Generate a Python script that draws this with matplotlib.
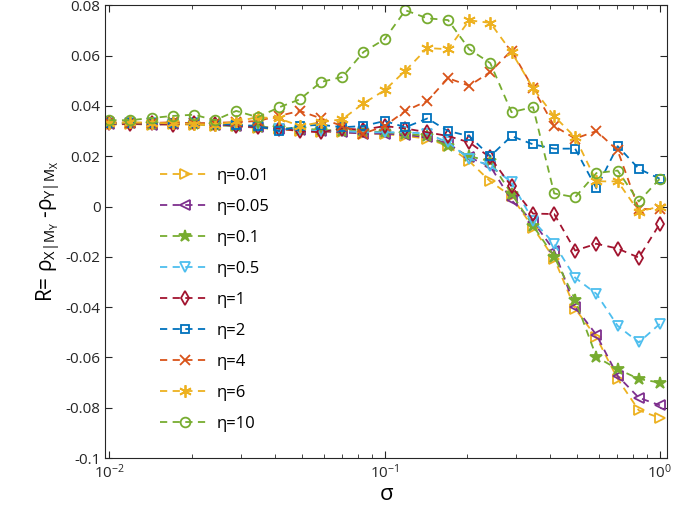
import numpy as np
import matplotlib
matplotlib.use("Agg")
import matplotlib.pyplot as plt
from matplotlib.ticker import FuncFormatter

plt.rcParams['font.family'] = ['Open Sans', 'DejaVu Sans']
plt.rcParams['mathtext.fontset'] = 'custom'
plt.rcParams['mathtext.rm'] = 'Open Sans'
plt.rcParams['mathtext.it'] = 'Open Sans'

# sigma values (log spaced)
sigma = [0.01, 0.0119, 0.0143, 0.0170, 0.0203, 0.0242, 0.0289, 0.0346, 0.0413, 0.0492,
         0.0588, 0.0702, 0.0838, 0.1, 0.119, 0.143, 0.170, 0.203, 0.242, 0.289,
         0.346, 0.413, 0.492, 0.588, 0.702, 0.838, 1.0]

labels = ['η=0.01', 'η=0.05', 'η=0.1', 'η=0.5', 'η=1', 'η=2', 'η=4', 'η=6', 'η=10']

r_001 = [0.0325, 0.0328, 0.0325, 0.0327, 0.0325, 0.0322, 0.0320, 0.0312, 0.0308, 0.0300,
         0.0298, 0.0295, 0.0290, 0.0288, 0.0280, 0.0270, 0.0240, 0.0180, 0.0100, 0.0040,
         -0.0084, -0.0207, -0.0406, -0.0520, -0.0685, -0.0810, -0.0840]
r_005 = [0.0328, 0.0330, 0.0325, 0.0328, 0.0330, 0.0325, 0.0322, 0.0315, 0.0310, 0.0305,
         0.0300, 0.0295, 0.0290, 0.0290, 0.0285, 0.0275, 0.0250, 0.0195, 0.0160, 0.0025,
         -0.0060, -0.0175, -0.0400, -0.0510, -0.0673, -0.0760, -0.0790]
r_01 = [0.0330, 0.0330, 0.0328, 0.0330, 0.0328, 0.0325, 0.0320, 0.0318, 0.0312, 0.0310,
        0.0305, 0.0300, 0.0300, 0.0295, 0.0290, 0.0280, 0.0240, 0.0200, 0.0180, 0.0050,
        -0.0076, -0.0199, -0.0370, -0.0598, -0.0646, -0.0685, -0.0700]
r_05 = [0.0330, 0.0332, 0.0330, 0.0328, 0.0330, 0.0325, 0.0320, 0.0315, 0.0310, 0.0305,
        0.0300, 0.0300, 0.0295, 0.0295, 0.0295, 0.0290, 0.0255, 0.0190, 0.0163, 0.0096,
        -0.0056, -0.0148, -0.0283, -0.0347, -0.0474, -0.0540, -0.0466]
r_1 = [0.0330, 0.0328, 0.0330, 0.0325, 0.0330, 0.0328, 0.0320, 0.0315, 0.0310, 0.0300,
       0.0295, 0.0310, 0.0305, 0.0320, 0.0310, 0.0295, 0.0280, 0.0255, 0.0195, 0.0080,
       -0.0028, -0.0030, -0.0175, -0.0148, -0.0167, -0.0203, -0.0068]
r_2 = [0.0330, 0.0333, 0.0330, 0.0332, 0.0330, 0.0328, 0.0325, 0.0320, 0.0300, 0.0320,
       0.0325, 0.0315, 0.0320, 0.0340, 0.0315, 0.0350, 0.0300, 0.0280, 0.0200, 0.0280,
       0.0247, 0.0230, 0.0230, 0.0072, 0.0240, 0.0150, 0.0110]
r_4 = [0.0335, 0.0333, 0.0332, 0.0335, 0.0330, 0.0333, 0.0335, 0.0340, 0.0360, 0.0380,
       0.0350, 0.0320, 0.0290, 0.0320, 0.0380, 0.0420, 0.0510, 0.0480, 0.0535, 0.0620,
       0.0470, 0.0320, 0.0270, 0.0300, 0.0223, -0.0010, -0.0010]
r_6 = [0.0330, 0.0335, 0.0333, 0.0330, 0.0328, 0.0325, 0.0338, 0.0355, 0.0350, 0.0320,
       0.0335, 0.0347, 0.0410, 0.0462, 0.0540, 0.0630, 0.0625, 0.0740, 0.0730, 0.0614,
       0.0470, 0.0359, 0.0275, 0.0100, 0.0100, -0.0020, 0.0000]
r_10 = [0.0343, 0.0343, 0.0352, 0.0360, 0.0365, 0.0343, 0.0380, 0.0355, 0.0394, 0.0426,
        0.0495, 0.0515, 0.0614, 0.0665, 0.0780, 0.0748, 0.0741, 0.0625, 0.0570, 0.0375,
        0.0395, 0.0052, 0.0037, 0.0133, 0.0143, 0.0020, 0.0111]

series = [r_001, r_005, r_01, r_05, r_1, r_2, r_4, r_6, r_10]
colors = ['#EDB120', '#7E2F8E', '#77AC30', '#4DBEEE', '#A2142F',
          '#0072BD', '#D95319', '#EDB120', '#77AC30']
markers = ['>', '<', '*', 'v', 'd', 's', 'x', (6, 2, 0), 'o']
filled = [False, False, True, False, False, False, False, False, False]
msizes = [7, 7, 9, 7, 7, 6, 7, 9, 7]

fig = plt.figure(figsize=(6.75, 5.23), dpi=100)
ax = fig.add_axes([0.156, 0.124, 0.832, 0.866])

for y, c, m, f, ms, lab in zip(series, colors, markers, filled, msizes, labels):
    ax.plot(sigma, y, linestyle=(0, (4, 3)), color=c, lw=1.3, marker=m, ms=ms,
            mew=1.3, mfc=c if f else 'none', mec=c, label=lab)

ax.set_xscale('log')
ax.set_xlim(0.00967, 1.06)
ax.set_ylim(-0.1, 0.08)
ax.set_yticks(np.arange(-0.1, 0.0801, 0.02))
ax.yaxis.set_major_formatter(FuncFormatter(lambda v, p: '%g' % round(v, 3)))

for s in ax.spines.values():
    s.set_color('#262626')
    s.set_linewidth(0.8)
ax.tick_params(which='both', direction='in', top=True, right=True, colors='#262626',
               labelsize=11)
ax.tick_params(which='major', length=5)
ax.tick_params(which='minor', length=3)

ax.set_xlabel('σ', fontsize=16, labelpad=2)
ax.set_ylabel(r'R= $\rho_{X|M_Y}$ -$\rho_{Y|M_X}$', fontsize=15, labelpad=2)

ax.legend(loc='upper left', bbox_to_anchor=(0.097, 0.64), frameon=False,
          fontsize=12, handlelength=3.0, handletextpad=0.4, labelspacing=0.9,
          borderaxespad=0, borderpad=0)

fig.savefig('out.png', dpi=100)
